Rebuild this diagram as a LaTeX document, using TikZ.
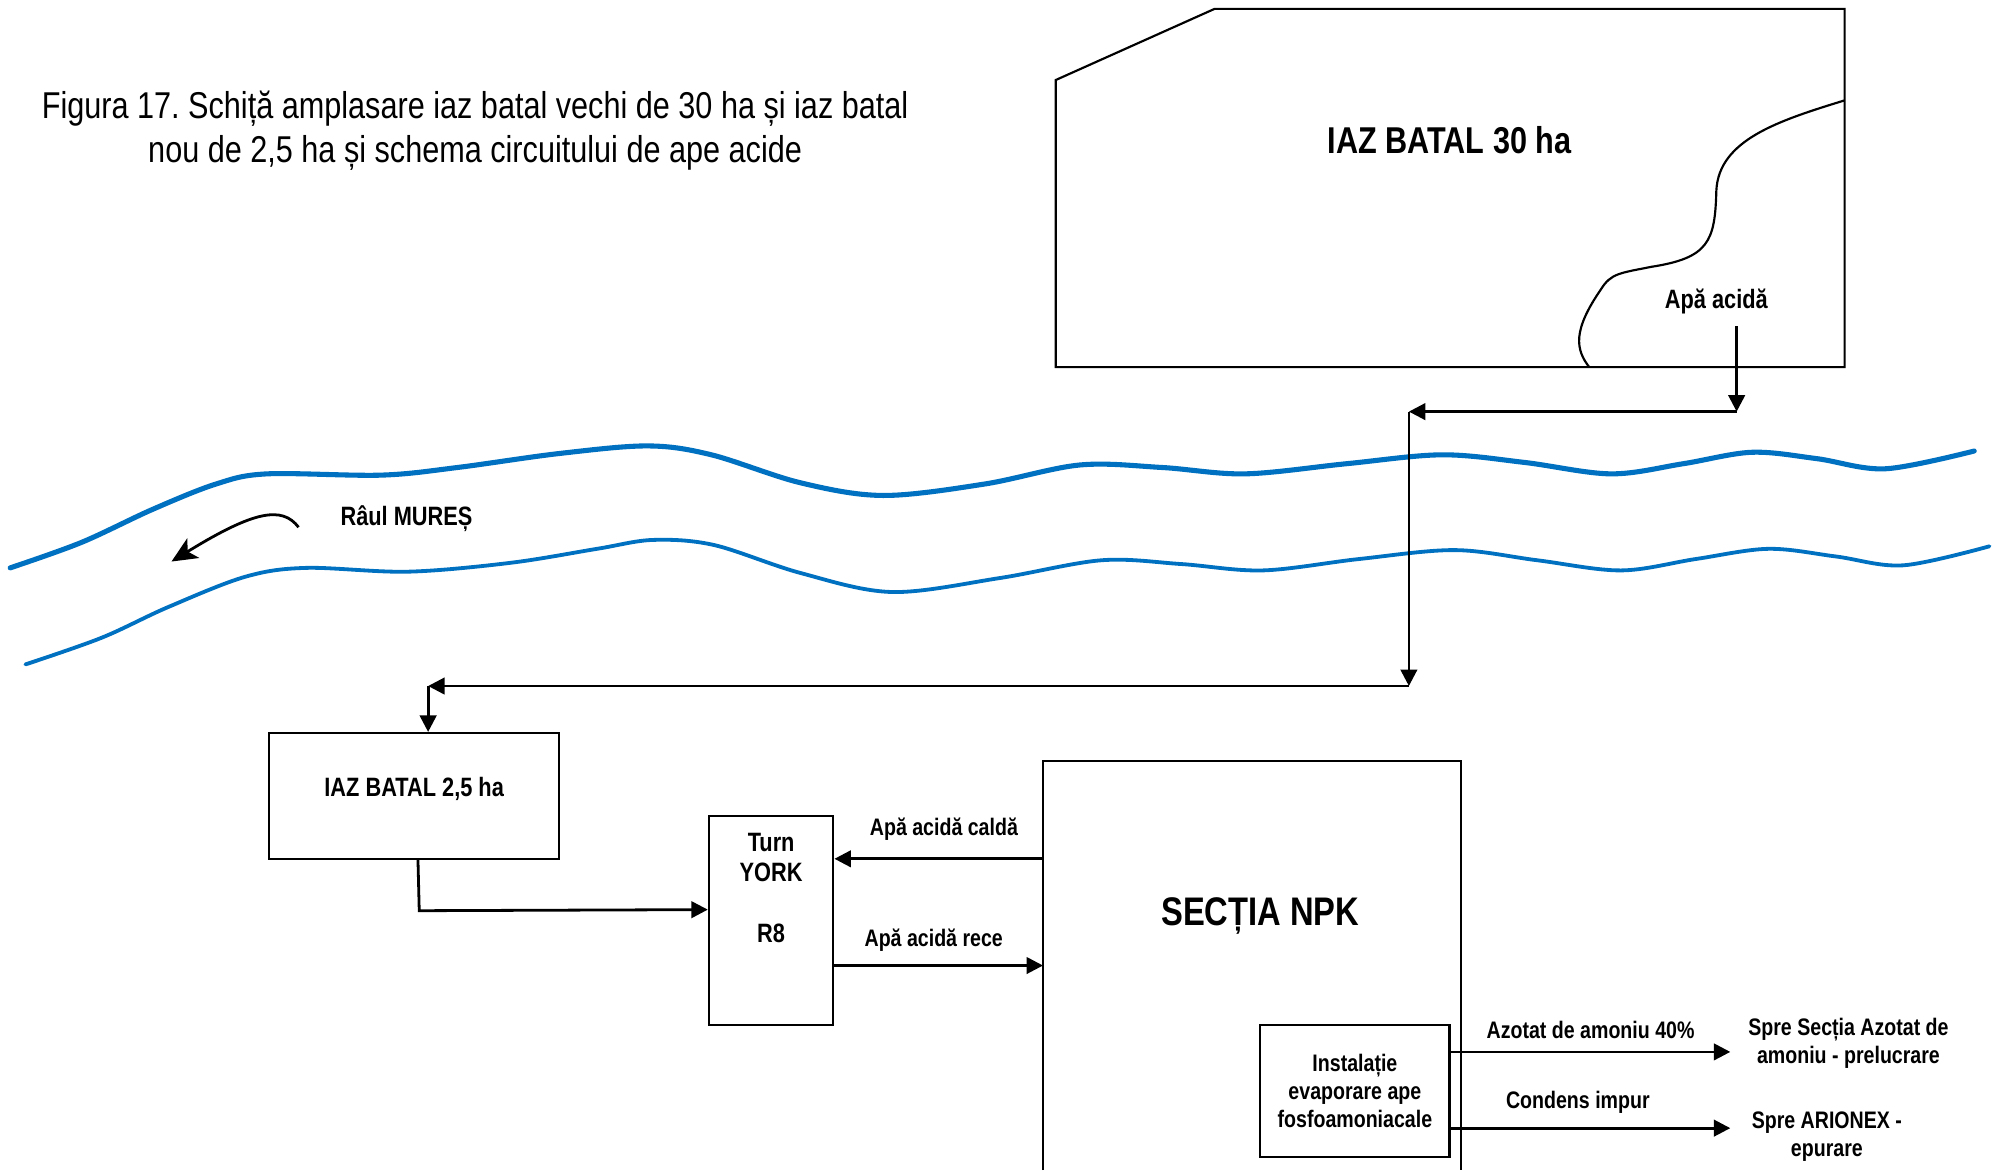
\documentclass[tikz,border=0pt]{standalone}
\usepackage{fontspec}
\setmainfont{Liberation Sans}[FakeStretch=0.82]
\usetikzlibrary{arrows.meta,calc}
\definecolor{riverblue}{HTML}{0070C0}
\frenchspacing
\begin{document}
\begin{tikzpicture}[x=0.5pt,y=-0.5pt,
  arr/.style={line width=1.1pt,-{Triangle[length=6.5pt,width=6.5pt]}},
  outline/.style={draw,line width=0.85pt},
  box/.style={draw,line width=0.85pt,inner sep=0pt,align=center},
  lblS/.style={font=\bfseries\fontsize{9.4pt}{11pt}\selectfont,inner sep=0pt,align=center},
  lblM/.style={font=\bfseries\fontsize{10.45pt}{12pt}\selectfont,inner sep=0pt,align=center},
  lblL/.style={font=\bfseries\fontsize{14.7pt}{17pt}\selectfont,inner sep=0pt,align=center},
  river/.style={draw=riverblue,line cap=round,line join=round}]
\useasboundingbox (0,0) rectangle (1568,921);

% title
\node[inner sep=0pt,align=center,font=\fontsize{14.7pt}{17.5pt}\selectfont] (title) at (374,103)
  {Figura 17. Schiță amplasare iaz batal vechi de 30 ha și iaz batal\\nou de 2,5 ha și schema circuitului de ape acide};

% big pond
\draw[outline] (831,63) -- (956,7) -- (1452,7) -- (1452,289) -- (831,289) -- cycle;
\draw[line width=0.85pt] (1452,79) .. controls (1400,95) and (1353,110) .. (1351,150)
  .. controls (1350,190) and (1345,203) .. (1300,210)
  .. controls (1275,215) and (1268,215) .. (1260,228)
  .. controls (1238,260) and (1240,275) .. (1251,289);
\node[lblL] (pond1) at (1141,110) {IAZ BATAL 30 ha};
\node[lblM] (apa) at (1351,237) {Apă acidă};

% river
\draw[river,line width=2pt] plot[smooth,tension=0.55] coordinates {(8,447) (64,427) (120,401) (170,381) (210,373) (300,374) (360,368) (440,357) (510,351) (560,358) (630,380) (695,390) (775,381) (850,366) (915,368) (980,373) (1060,365) (1135,358) (1200,364) (1268,373) (1325,365) (1379,356) (1430,361) (1484,369) (1554,355)};
\draw[river,line width=1.5pt] plot[smooth,tension=0.55] coordinates {(20,523) (80,502) (132,478) (193,454) (241,447) (321,450) (402,443) (470,432) (514,425) (562,429) (630,451) (702,466) (787,455) (867,441) (930,444) (994,449) (1070,440) (1145,433) (1210,441) (1276,449) (1335,440) (1392,432) (1445,438) (1498,445) (1566,430)};
\node[lblM] (raul) at (320,408) {Râul MUREȘ};
\coordinate (fl1) at (235,415);
\coordinate (fl2) at (135,442);
\draw[line width=1.1pt,-{Stealth[length=10pt,width=9pt,inset=2.5pt]}] (fl1) .. controls (222,398) and (200,402) .. (fl2);

% connectors from big pond
\coordinate (a1) at (1367,257);
\coordinate (j1) at (1367,324);
\coordinate (j2) at (1109,324);
\coordinate (j3) at (1109,540);
\coordinate (j4) at (337,540);

% small pond
\node[box,minimum width=114pt,minimum height=49.5pt] (pond2) at (326,626.5) {};
\node[lblM] (pond2t) at (326,621) {IAZ BATAL 2,5 ha};

\draw[arr] (a1) -- (j1);
\draw[arr] (j1) -- (j2);
\draw[arr] (j2) -- (j3);
\draw[arr] (j3) -- (j4);
\draw[arr] (j4) -- (j4 |- pond2.north);

% Turn YORK
\node[box,minimum width=49pt,minimum height=82.5pt] (turn) at (607,724.5) {};
\node[lblM] (turn1) at (607,663) {Turn};
\node[lblM] (turn2) at (607,687) {YORK};
\node[lblM] (turn3) at (607,735) {R8};

\draw[arr] ($(pond2.south)+(3,0)$) -- ($(pond2.south)+(4,40)$) -- ($(turn.west)+(0,-8.5)$);

% NPK
\coordinate (n1) at (821,921);
\coordinate (n2) at (821,599);
\coordinate (n3) at (1150,599);
\coordinate (n4) at (1150,921);
\draw[outline] (n1) -- (n2) -- (n3) -- (n4);
\node[font=\bfseries\fontsize{15.7pt}{18pt}\selectfont,inner sep=0pt] (npk) at (992,721) {SECȚIA NPK};
\coordinate (npkA) at (821,676);
\coordinate (npkB) at (821,760);

\draw[arr] (npkA) -- (npkA -| turn.east);
\draw[arr] (npkB -| turn.east) -- (npkB);
\node[lblS] (calda) at (743,653) {Apă acidă caldă};
\node[lblS] (rece) at (735,740) {Apă acidă rece};

% instalatie
\node[box,minimum width=74.5pt,minimum height=52pt,font=\bfseries\fontsize{9.4pt}{11pt}\selectfont] (inst) at (1066.5,859)
  {Instalație\\evaporare ape\\fosfoamoniacale};
\coordinate (o1) at (1362,828);
\coordinate (o2) at (1362,888);
\draw[arr] (o1 -| inst.east) -- (o1);
\draw[arr] (o2 -| inst.east) -- (o2);
\node[lblS] (azotat) at (1252,811) {Azotat de amoniu 40\%};
\node[lblS] (condens) at (1242,868) {Condens impur};
\node[lblS] (spre1) at (1455,821) {Spre Secția Azotat de\\amoniu - prelucrare};
\node[lblS] (spre2) at (1438,895) {Spre ARIONEX -\\epurare};
\end{tikzpicture}
\end{document}
